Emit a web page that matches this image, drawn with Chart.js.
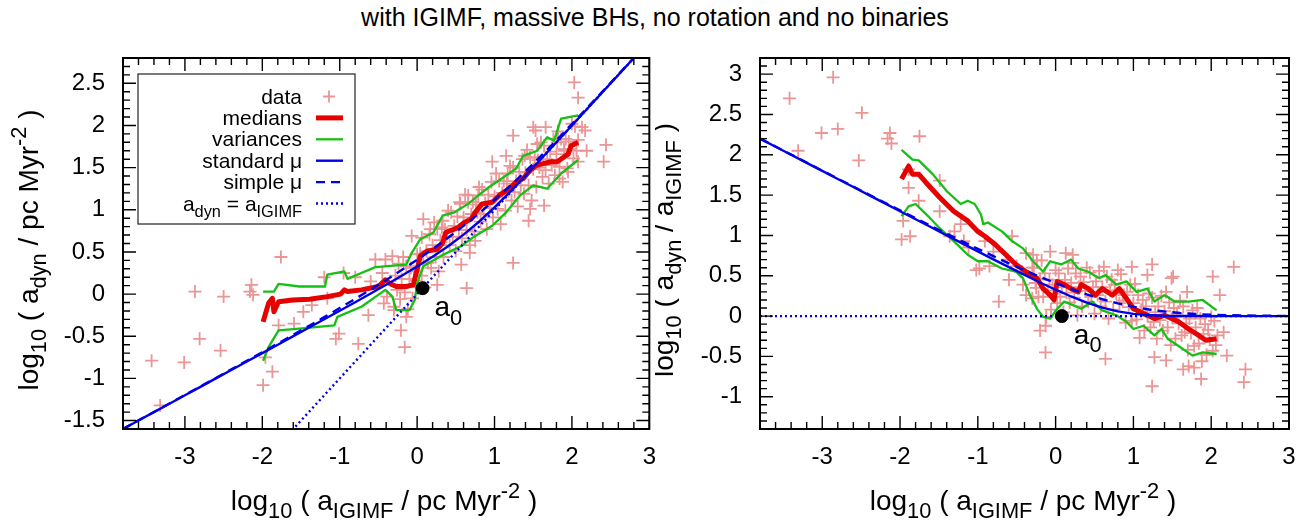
<!DOCTYPE html>
<html>
<head>
<meta charset="utf-8">
<script src="https://cdn.jsdelivr.net/npm/chart.js@4.4.1/dist/chart.umd.min.js"></script>
<style>
  body { margin: 0; background: #fff; width: 1310px; height: 522px; position: relative; overflow: hidden; }
  #title { position: absolute; left: 0; top: 3px; width: 1310px; text-align: center; font: 25px "Liberation Sans", Arial, sans-serif; color: #000; }
  canvas { position: absolute; top: 0; }
  #left { left: 0; }
  #right { left: 655px; }
</style>
</head>
<body>
<div id="title">with IGIMF, massive BHs, no rotation and no binaries</div>
<canvas id="left" width="670" height="522"></canvas>
<canvas id="right" width="655" height="522"></canvas>
<script>
const FONT = '"Liberation Sans", Arial, sans-serif';

// tick labels
const xTicks = [-3, -2, -1, 0, 1, 2, 3];
const yTicksL = [-1.5, -1, -0.5, 0, 0.5, 1, 1.5, 2, 2.5];
const yTicksR = [-1, -0.5, 0, 0.5, 1, 1.5, 2, 2.5, 3];

// ---- left panel: log10 a_dyn vs log10 a_IGIMF ----
const dataL = [
  [2.03,2.51],[2.08,2.33],[2.44,1.77],[2.41,1.57],[2.13,1.98],[2.17,1.94],[2.08,1.57],[2.19,1.70],
  [1.24,1.88],[0.97,1.57],[1.24,0.37],[0.64,0.07],[0.57,0.35],[0.26,0.11],[-1.76,0.44],[-2.14,0.11],
  [-2.16,0.03],[-2.12,-0.01],[-2.87,0.03],[-2.50,-0.03],[-2.81,-0.53],[-2.54,-0.67],[-3.43,-0.79],
  [-3.01,-0.81],[-3.32,-1.32],[-1.99,-1.08],[-1.96,-0.75],[-1.87,-0.92],[-1.79,-0.37],[-1.59,-0.35],
  [-1.47,-0.21],[-1.36,-0.13],[-1.16,-0.05],[-1.05,-0.53],[-1.01,-0.47],[-0.76,-0.59],[-0.63,-0.25],
  [-0.43,-0.11],[-0.39,-0.03],[-0.32,0.45],[-0.54,0.41],[-0.41,0.41],[-0.21,-0.43],[-0.16,-0.63],
  [-0.14,-0.27],[1.50,1.98],[1.53,1.94],[1.66,1.98],[1.55,1.78],[1.39,1.64],[1.15,1.64],[1.17,1.43],
  [0.79,1.17],[0.66,1.17],[0.55,1.09],[1.81,1.80],[1.90,1.72],[1.84,1.37],[1.95,1.45],[1.64,1.05],
  [1.46,1.01],[1.44,0.87],[0.17,0.77],[0.33,0.87],[0.08,0.89],[-0.07,0.69],[0.06,0.67],[0.75,0.63],
  [0.68,0.49],[-0.60,0.15],[-0.80,0.20],[-0.95,0.25],[-1.20,0.20],[-0.45,0.25],[-0.30,-0.15],
  [-0.30,-0.19],[-0.28,0.22],[-0.26,0.05],[-0.24,0.36],[-0.22,-0.06],[-0.20,0.18],[-0.18,0.44],
  [-0.16,0.02],[-0.14,0.33],[-0.12,-0.18],[-0.10,0.18],[-0.08,0.31],[-0.06,-0.05],[-0.04,0.27],
  [-0.02,0.16],[0.00,0.47],[0.02,0.08],[0.04,0.48],[0.06,0.22],[0.08,0.37],[0.10,0.08],[0.12,0.51],
  [0.14,0.37],[0.16,0.71],[0.18,0.31],[0.20,0.58],[0.22,0.85],[0.24,0.44],[0.26,0.77],[0.28,0.27],
  [0.30,0.64],[0.32,0.79],[0.34,0.44],[0.36,0.77],[0.38,0.68],[0.40,0.99],[0.42,0.58],[0.44,0.97],
  [0.46,0.68],[0.48,0.81],[0.50,0.51],[0.52,0.92],[0.54,0.76],[0.56,1.07],[0.58,0.66],[0.60,0.91],
  [0.62,1.18],[0.64,0.76],[0.66,1.09],[0.68,0.58],[0.70,0.95],[0.72,1.09],[0.74,0.74],[0.76,1.06],
  [0.78,0.97],[0.80,1.27],[0.82,0.86],[0.84,1.24],[0.86,0.95],[0.88,1.08],[0.90,0.77],[0.92,1.18],
  [0.94,1.02],[0.96,1.33],[0.98,0.91],[1.00,1.16],[1.02,1.43],[1.04,1.01],[1.06,1.34],[1.08,0.83],
  [1.10,1.20],[1.12,1.34],[1.14,0.99],[1.16,1.31],[1.18,1.22],[1.20,1.52],[1.22,1.11],[1.24,1.50],
  [1.26,1.21],[1.28,1.34],[1.30,1.04],[1.32,1.45],[1.34,1.29],[1.36,1.60],[1.38,1.19],[1.40,1.44],
  [1.42,1.71],[1.44,1.29],[1.46,1.62],[1.48,1.11],[1.50,1.48],[1.52,1.62],[1.54,1.27],[1.56,1.59],
  [1.58,1.50],[1.60,1.80],[1.62,1.39],[1.64,1.76],[1.66,1.47],[1.68,1.60],[1.70,1.31],[1.72,1.69],
  [1.74,1.53],[1.76,1.84],[1.78,1.41],[1.80,1.66],[1.82,1.93],[1.84,1.51],[1.86,1.84],[1.88,1.33],
  [1.90,1.70],[1.92,1.84],[1.94,1.49],[1.96,1.81],[1.98,1.72],[2.00,2.02],[2.02,1.61],[2.04,1.99],
  [2.06,1.70],[2.08,1.83]
];
const medL = [
  [-1.99,-0.33],[-1.92,-0.11],[-1.87,-0.05],[-1.85,-0.21],[-1.79,-0.09],[-1.61,-0.07],[-1.39,-0.06],
  [-1.16,-0.03],[-0.99,0.00],[-0.94,0.05],[-0.90,0.03],[-0.72,0.05],[-0.50,0.09],[-0.41,0.17],
  [-0.36,0.13],[-0.27,0.09],[-0.14,0.09],[-0.05,0.11],[0.00,0.29],[0.04,0.45],[0.13,0.51],[0.26,0.53],
  [0.33,0.61],[0.37,0.73],[0.53,0.79],[0.61,0.85],[0.70,0.89],[0.75,0.97],[0.84,1.07],[0.97,1.09],
  [1.06,1.17],[1.19,1.25],[1.28,1.33],[1.37,1.37],[1.46,1.47],[1.55,1.53],[1.73,1.57],[1.81,1.57],
  [1.95,1.66],[1.99,1.76],[2.08,1.80]
];
const varHiL = [
  [-1.99,0.03],[-1.85,0.03],[-1.79,0.12],[-1.52,0.09],[-1.19,0.09],[-1.16,0.23],[-0.94,0.27],
  [-0.90,0.18],[-0.72,0.25],[-0.54,0.32],[-0.14,0.35],[-0.07,0.49],[0.04,0.65],[0.21,0.73],
  [0.33,0.93],[0.48,0.97],[0.66,1.07],[0.79,1.17],[0.93,1.27],[1.06,1.35],[1.28,1.49],[1.37,1.64],
  [1.55,1.70],[1.68,1.86],[1.77,1.82],[1.86,2.08],[2.08,2.12]
];
const varLoL = [
  [-1.99,-0.79],[-1.92,-0.63],[-1.79,-0.43],[-1.52,-0.41],[-1.07,-0.37],[-1.03,-0.27],[-0.72,-0.15],
  [-0.41,0.05],[-0.32,-0.03],[-0.27,-0.19],[-0.10,-0.19],[-0.03,-0.07],[0.00,0.13],[0.08,0.33],
  [0.30,0.45],[0.57,0.57],[0.75,0.69],[0.97,0.81],[1.15,0.97],[1.33,1.17],[1.50,1.29],[1.68,1.25],
  [1.86,1.43],[2.08,1.59]
];

// model curves, sampled along log10 a_IGIMF
const muX = [-3.8,-3.6,-3.4,-3.2,-3.0,-2.8,-2.6,-2.4,-2.2,-2.0,-1.8,-1.6,-1.4,-1.2,-1.0,-0.8,-0.6,-0.4,
  -0.2,0.0,0.2,0.4,0.6,0.8,1.0,1.2,1.4,1.6,1.8,2.0,2.4,2.8,3.0];
const stdL = [-1.600,-1.500,-1.400,-1.300,-1.200,-1.100,-1.000,-0.900,-0.800,-0.700,-0.600,-0.499,-0.399,
  -0.298,-0.197,-0.096,0.007,0.111,0.217,0.327,0.443,0.567,0.705,0.858,1.028,1.213,1.405,1.602,1.801,
  2.000,2.400,2.800,3.000];
const simpleL = [-1.599,-1.498,-1.398,-1.297,-1.197,-1.096,-0.995,-0.893,-0.791,-0.689,-0.586,-0.483,
  -0.378,-0.273,-0.166,-0.057,0.054,0.168,0.286,0.408,0.535,0.668,0.809,0.958,1.116,1.282,1.457,1.638,
  1.825,2.016,2.407,2.803,3.002];
const oneX = [-3.8, 3.0];
const oneL = [-3.8, 3.0];
const a0L = [0.07, 0.07];

// ---- right panel: log10 (a_dyn / a_IGIMF) vs log10 a_IGIMF ----
const dataR = [
  [-3.42,2.70],[-2.86,2.96],[-2.49,2.52],[-3.01,2.27],[-2.80,2.32],[-3.31,2.05],[-2.53,1.93],
  [-2.13,2.27],[-2.16,2.20],[-2.11,2.14],[-1.75,2.23],[-1.89,1.82],[-1.89,1.59],[-1.76,1.43],
  [-1.49,1.68],[-1.96,1.18],[-1.87,0.99],[-1.98,0.95],[-1.49,1.30],[-1.36,0.99],[-1.22,1.14],
  [-1.18,0.93],[-1.02,0.57],[-0.98,0.59],[-0.91,0.93],[-0.73,0.18],[-0.56,0.99],[-0.38,0.78],
  [-0.29,0.76],[-0.38,0.26],[-0.42,0.39],[-0.20,-0.18],[-0.13,-0.12],[-0.13,-0.45],[-0.07,0.80],
  [0.13,0.78],[0.22,0.76],[0.64,-0.53],[0.98,0.61],[1.24,0.64],[1.18,0.51],[1.49,0.47],[1.51,0.49],
  [1.69,0.30],[2.02,0.49],[2.29,0.61],[2.11,0.26],[2.16,-0.20],[2.20,-0.49],[2.44,-0.66],[2.42,-0.82],
  [1.87,-0.78],[1.64,-0.66],[1.71,-0.62],[1.78,-0.64],[1.24,-0.87],[1.42,-0.55],[1.27,-0.51],
  [-1.30,1.05],[-1.12,0.85],[-0.80,0.80],[-0.62,0.70],[-0.50,0.62],[-0.45,0.55],[-0.30,0.60],
  [-0.25,0.35],[-0.60,0.45],[-0.85,0.62],
  [-0.30,0.22],[-0.28,0.60],[-0.26,0.41],[-0.24,0.69],[-0.22,0.24],[-0.20,0.46],[-0.18,0.69],
  [-0.16,0.24],[-0.14,0.53],[-0.12,-0.01],[-0.10,0.32],[-0.08,0.45],[-0.06,0.08],[-0.04,0.39],
  [-0.02,0.28],[0.00,0.57],[0.02,0.16],[0.04,0.53],[0.06,0.24],[0.08,0.36],[0.10,0.05],[0.12,0.45],
  [0.14,0.29],[0.16,0.59],[0.18,0.17],[0.20,0.41],[0.22,0.66],[0.24,0.23],[0.26,0.53],[0.28,0.01],
  [0.30,0.36],[0.32,0.49],[0.34,0.12],[0.36,0.42],[0.38,0.31],[0.40,0.60],[0.42,0.18],[0.44,0.54],
  [0.46,0.24],[0.48,0.36],[0.50,0.03],[0.52,0.43],[0.54,0.26],[0.56,0.56],[0.58,0.12],[0.60,0.36],
  [0.62,0.61],[0.64,0.18],[0.66,0.49],[0.68,-0.03],[0.70,0.32],[0.72,0.45],[0.74,0.08],[0.76,0.39],
  [0.78,0.28],[0.80,0.57],[0.82,0.16],[0.84,0.52],[0.86,0.19],[0.88,0.26],[0.90,-0.08],[0.92,0.30],
  [0.94,0.11],[0.96,0.39],[0.98,-0.06],[1.00,0.16],[1.02,0.40],[1.04,-0.04],[1.06,0.26],[1.08,-0.27],
  [1.10,0.08],[1.12,0.20],[1.14,-0.18],[1.16,0.12],[1.18,0.00],[1.20,0.28],[1.22,-0.14],[1.24,0.23],
  [1.26,-0.07],[1.28,0.05],[1.30,-0.28],[1.32,0.12],[1.34,-0.05],[1.36,0.25],[1.38,-0.18],[1.40,0.06],
  [1.42,0.30],[1.44,-0.14],[1.46,0.17],[1.48,-0.36],[1.50,-0.02],[1.52,0.10],[1.54,-0.28],[1.56,0.03],
  [1.58,-0.09],[1.60,0.19],[1.62,-0.24],[1.64,0.12],[1.66,-0.20],[1.68,-0.09],[1.70,-0.42],[1.72,-0.03],
  [1.74,-0.21],[1.76,0.07],[1.78,-0.37],[1.80,-0.14],[1.82,0.10],[1.84,-0.34],[1.86,-0.03],[1.88,-0.56],
  [1.90,-0.22],[1.92,-0.10],[1.94,-0.48],[1.96,-0.17],[1.98,-0.29],[2.00,-0.01],[2.02,-0.43],[2.04,-0.06],
  [2.06,-0.36],[2.08,-0.24]
];
const medR = [
  [-1.98,1.70],[-1.89,1.86],[-1.84,1.76],[-1.76,1.76],[-1.67,1.66],[-1.49,1.47],[-1.31,1.30],
  [-1.13,1.18],[-1.00,1.05],[-0.91,0.99],[-0.78,0.89],[-0.64,0.76],[-0.51,0.64],[-0.38,0.55],
  [-0.24,0.47],[-0.16,0.34],[-0.07,0.26],[-0.02,0.20],[0.02,0.43],[0.11,0.39],[0.20,0.34],[0.29,0.30],
  [0.33,0.39],[0.42,0.34],[0.51,0.26],[0.60,0.34],[0.73,0.26],[0.82,0.34],[0.91,0.22],[1.00,0.09],
  [1.09,0.05],[1.18,0.01],[1.27,-0.03],[1.40,0.01],[1.49,-0.03],[1.58,-0.07],[1.71,-0.16],[1.84,-0.24],
  [1.93,-0.30],[2.07,-0.28]
];
const varHiR = [
  [-1.98,2.06],[-1.84,1.94],[-1.76,1.93],[-1.58,1.76],[-1.40,1.55],[-1.22,1.39],[-1.13,1.43],
  [-1.04,1.39],[-0.96,1.26],[-0.93,1.14],[-0.87,1.16],[-0.69,1.05],[-0.56,0.93],[-0.42,0.84],
  [-0.29,0.68],[-0.16,0.55],[-0.07,0.68],[0.07,0.64],[0.20,0.70],[0.29,0.59],[0.42,0.55],[0.56,0.47],
  [0.64,0.51],[0.78,0.39],[0.91,0.43],[1.04,0.30],[1.18,0.34],[1.27,0.18],[1.40,0.26],[1.53,0.18],
  [1.71,0.18],[1.89,0.20],[2.07,0.07]
];
const varLoR = [
  [-1.98,1.24],[-1.89,1.36],[-1.80,1.39],[-1.62,1.22],[-1.49,1.09],[-1.31,0.93],[-1.13,0.76],
  [-1.00,0.68],[-0.87,0.68],[-0.69,0.59],[-0.51,0.55],[-0.42,0.47],[-0.33,0.26],[-0.24,0.09],
  [-0.16,-0.01],[-0.07,-0.03],[0.02,0.09],[0.11,0.18],[0.24,0.13],[0.33,0.09],[0.47,0.18],[0.60,0.07],
  [0.78,0.01],[0.91,-0.07],[1.00,-0.16],[1.13,-0.12],[1.27,-0.24],[1.36,-0.16],[1.44,-0.28],
  [1.58,-0.37],[1.76,-0.49],[1.89,-0.45],[2.07,-0.47]
];
const stdR = [2.200,2.100,2.000,1.900,1.800,1.700,1.600,1.500,1.400,1.300,1.200,1.101,1.001,0.902,0.803,
  0.704,0.607,0.511,0.417,0.327,0.243,0.167,0.105,0.058,0.028,0.013,0.005,0.002,0.001,0.000,0.000,0.000,0.000];
const simpleR = [2.201,2.102,2.002,1.903,1.803,1.704,1.605,1.507,1.409,1.311,1.214,1.117,1.022,0.927,0.834,
  0.743,0.654,0.568,0.486,0.408,0.335,0.268,0.209,0.158,0.116,0.082,0.057,0.038,0.025,0.016,0.007,0.003,0.002];
const oneR = [0, 0];
const a0R = [0.08, 0.0];

// labels with sub/superscripts
const xTitle = [['log'], ['10', 'sub'], [' ( a'], ['IGIMF', 'sub'], [' / pc Myr'], ['-2', 'sup'], [' )']];
const yTitleL = [['log'], ['10', 'sub'], [' ( a'], ['dyn', 'sub'], [' / pc Myr'], ['-2', 'sup'], [' )']];
const yTitleR = [['log'], ['10', 'sub'], [' ( a'], ['dyn', 'sub'], [' / a'], ['IGIMF', 'sub'], [' )']];
const legendRows = [
  { parts: [['data']], ds: 0 },
  { parts: [['medians']], ds: 1 },
  { parts: [['variances']], ds: 2 },
  { parts: [['standard μ']], ds: 4 },
  { parts: [['simple μ']], ds: 5 },
  { parts: [['a'], ['dyn', 'sub'], [' = a'], ['IGIMF', 'sub']], ds: 6 }
];

const PINK = '#eb9696', RED = '#e60000', GREEN = '#14c014', BLUE = '#0000e6';

function drawRich(ctx, parts, x, y, size, align) {
  const small = size * 0.78;
  const runs = parts.map(([t, k]) => {
    ctx.font = (k ? small : size) + 'px ' + FONT;
    return { t, k, w: ctx.measureText(t).width };
  });
  const total = runs.reduce((s, r) => s + r.w, 0);
  let cx = align === 'right' ? x - total : align === 'center' ? x - total / 2 : x;
  ctx.textAlign = 'left';
  ctx.textBaseline = 'alphabetic';
  for (const r of runs) {
    ctx.font = (r.k ? small : size) + 'px ' + FONT;
    const dy = r.k === 'sub' ? size * 0.3 : r.k === 'sup' ? -size * 0.42 : 0;
    ctx.fillText(r.t, cx, y + dy);
    cx += r.w;
  }
}

const decor = {
  id: 'decor',
  afterDatasetsDraw(chart, args, o) {
    const { ctx, chartArea: a, scales: { x, y } } = chart;
    ctx.save();
    ctx.strokeStyle = '#000';
    ctx.lineWidth = 1.4;
    ctx.beginPath();
    const vt = (v, len) => {
      const p = x.getPixelForValue(v);
      ctx.moveTo(p, a.bottom); ctx.lineTo(p, a.bottom - len);
      ctx.moveTo(p, a.top); ctx.lineTo(p, a.top + len);
    };
    const ht = (v, len) => {
      const p = y.getPixelForValue(v);
      ctx.moveTo(a.left, p); ctx.lineTo(a.left + len, p);
      ctx.moveTo(a.right, p); ctx.lineTo(a.right - len, p);
    };
    for (let i = Math.ceil(x.min / 0.2 - 1e-6); i * 0.2 <= x.max + 1e-6; i++) vt(i * 0.2, 7);
    for (let i = Math.ceil(y.min / 0.1 - 1e-6); i * 0.1 <= y.max + 1e-6; i++) ht(i * 0.1, 7);
    x.ticks.forEach(t => vt(t.value, 13));
    y.ticks.forEach(t => ht(t.value, 13));
    ctx.stroke();
    ctx.lineWidth = 2;
    ctx.strokeRect(a.left, a.top, a.right - a.left, a.bottom - a.top);

    ctx.fillStyle = '#000';
    drawRich(ctx, xTitle, o.xTitle[0], o.xTitle[1], 28, 'center');
    ctx.save();
    ctx.translate(o.yTitle[0], o.yTitle[1]);
    ctx.rotate(-Math.PI / 2);
    drawRich(ctx, o.yParts, 0, 0, 28, 'center');
    ctx.restore();

    // a0 label next to the black dot
    const dot = chart.getDatasetMeta(7).data[0];
    drawRich(ctx, [['a'], ['0', 'sub']], dot.x + 12, dot.y + 28, 28, 'left');

    if (o.legend) {
      const bx = a.left + 15, by = a.top + 16;
      ctx.lineWidth = 1.2;
      ctx.strokeStyle = '#222';
      ctx.strokeRect(bx, by, 217, 150);
      legendRows.forEach((row, i) => {
        const cy = by + 22.5 + i * 21.4;
        ctx.fillStyle = '#000';
        drawRich(ctx, row.parts, bx + 164, cy + 7, 21, 'right');
        const ds = chart.data.datasets[row.ds];
        ctx.beginPath();
        ctx.strokeStyle = ds.borderColor;
        if (row.ds === 0) {
          ctx.lineWidth = ds.pointBorderWidth;
          ctx.setLineDash([]);
          ctx.moveTo(bx + 185, cy); ctx.lineTo(bx + 197, cy);
          ctx.moveTo(bx + 191, cy - 6); ctx.lineTo(bx + 191, cy + 6);
        } else {
          ctx.lineWidth = ds.borderWidth;
          ctx.setLineDash(ds.borderDash || []);
          ctx.moveTo(bx + 178, cy); ctx.lineTo(bx + 205, cy);
        }
        ctx.stroke();
        ctx.setLineDash([]);
      });
    }
    ctx.restore();
  }
};

const pts = arr => arr.map(([x, y]) => ({ x, y }));
const zip = (xs, ys) => xs.map((x, i) => ({ x, y: ys[i] }));

function makeChart(id, p) {
  const line = (label, data, color, width, order, extra) => Object.assign({
    label, data, showLine: true, borderColor: color, borderWidth: width, pointRadius: 0,
    fill: false, order, clip: 1, borderJoinStyle: 'round'
  }, extra || {});
  return new Chart(document.getElementById(id), {
    type: 'scatter',
    data: {
      datasets: [
        { label: 'data', data: pts(p.data), pointStyle: 'cross', pointRadius: 6.5, pointBorderWidth: 1.8,
          borderColor: PINK, pointBorderColor: PINK, backgroundColor: PINK, showLine: false, order: 9, clip: 3 },
        line('medians', pts(p.med), RED, 5, 8),
        line('variances', pts(p.hi), GREEN, 2.3, 7),
        line('variances', pts(p.lo), GREEN, 2.3, 7),
        line('standard μ', zip(muX, p.std), BLUE, 2.4, 5),
        line('simple μ', zip(muX, p.simple), BLUE, 2.4, 4, { borderDash: [9, 6] }),
        line('a_dyn = a_IGIMF', zip(oneX, p.one), BLUE, 2.4, 3, { borderDash: [2, 3] }),
        { label: 'a0', data: [{ x: p.a0[0], y: p.a0[1] }], pointRadius: 6.5, pointStyle: 'circle',
          pointBackgroundColor: '#000', pointBorderColor: '#000', showLine: false, order: 0 }
      ]
    },
    options: {
      responsive: false,
      animation: false,
      events: [],
      layout: { padding: { top: 58, right: p.padRight, bottom: 0, left: 0 } },
      plugins: {
        legend: { display: false },
        tooltip: { enabled: false },
        decor: { xTitle: p.xTitle, yTitle: p.yTitle, yParts: p.yParts, legend: p.legend }
      },
      scales: {
        x: {
          type: 'linear', min: -3.8, max: 3,
          grid: { display: false, drawTicks: false },
          border: { display: false },
          ticks: { color: '#000', font: { family: FONT, size: 24 }, padding: 14, maxRotation: 0,
            autoSkip: false, includeBounds: false, callback: v => String(v) },
          afterBuildTicks: s => { s.ticks = xTicks.map(v => ({ value: v })); },
          afterFit: s => { s.height = 93; }
        },
        y: {
          type: 'linear', min: p.ymin, max: p.ymax,
          grid: { display: false, drawTicks: false },
          border: { display: false },
          ticks: { color: '#000', font: { family: FONT, size: 24 }, padding: 18,
            autoSkip: false, includeBounds: false, callback: v => String(v) },
          afterBuildTicks: s => { s.ticks = p.yTicks.map(v => ({ value: v })); },
          afterFit: s => { s.width = p.yWidth; }
        }
      }
    },
    plugins: [decor]
  });
}

makeChart('left', {
  data: dataL, med: medL, hi: varHiL, lo: varLoL, std: stdL, simple: simpleL, one: oneL, a0: a0L,
  ymin: -1.6, ymax: 2.8, yTicks: yTicksL, yWidth: 123, padRight: 20,
  xTitle: [384, 510], yTitle: [38, 250], yParts: yTitleL, legend: true
});
makeChart('right', {
  data: dataR, med: medR, hi: varHiR, lo: varLoR, std: stdR, simple: simpleR, one: oneR, a0: a0R,
  ymin: -1.4, ymax: 3.2, yTicks: yTicksR, yWidth: 105, padRight: 21,
  xTitle: [368, 510], yTitle: [18, 250], yParts: yTitleR, legend: false
});
</script>
</body>
</html>
